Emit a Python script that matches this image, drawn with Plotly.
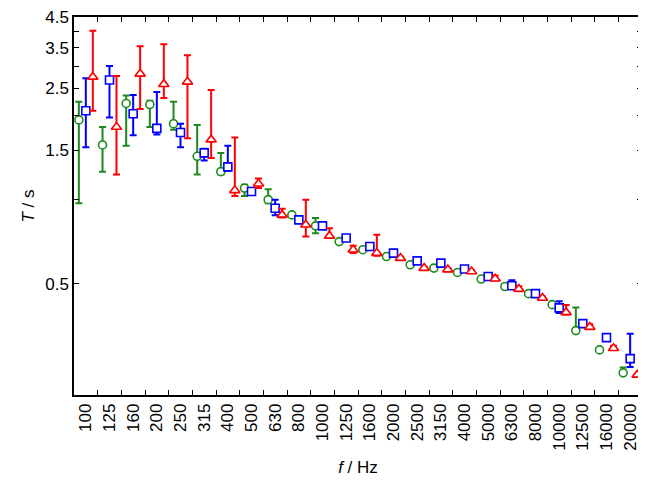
import plotly.graph_objects as go
import numpy as np

bands = ["100","125","160","200","250","315","400","500","630","800","1000","1250",
         "1600","2000","2500","3150","4000","5000","6300","8000","10000","12500","16000","20000"]

green_T = [1.93,1.57,2.21,2.19,1.87,1.43,1.26,1.10,1.00,0.882,0.806,0.708,0.662,0.626,0.585,0.569,0.549,0.520,0.489,0.461,0.421,0.340,0.290,0.240]
green_hi = [2.24,1.82,2.36,2.26,2.24,1.85,1.47,1.13,1.09,0.89,0.859,0.712,0.665,0.63,0.588,0.572,0.552,0.523,0.492,0.463,0.423,0.411,0.292,0.251]
green_lo = [0.97,1.26,1.56,1.82,1.78,1.23,1.23,1.03,0.97,0.875,0.759,0.705,0.659,0.622,0.582,0.566,0.546,0.517,0.486,0.459,0.419,0.338,0.288,0.240]

blue_T = [2.08,2.68,2.03,1.80,1.74,1.47,1.31,1.07,0.932,0.847,0.806,0.729,0.680,0.644,0.604,0.593,0.565,0.531,0.492,0.461,0.410,0.360,0.321,0.270]
blue_hi = [2.72,3.01,2.37,2.43,1.87,1.52,1.56,1.075,1.0,0.85,0.81,0.735,0.69,0.65,0.61,0.60,0.57,0.535,0.515,0.465,0.433,0.363,0.323,0.331]
blue_lo = [1.54,1.97,1.70,1.71,1.54,1.38,1.27,1.065,0.88,0.845,0.80,0.725,0.675,0.64,0.60,0.59,0.56,0.528,0.48,0.457,0.393,0.357,0.319,0.252]

red_T = [2.75,1.82,2.82,2.59,2.64,1.64,1.08,1.14,0.882,0.813,0.742,0.662,0.644,0.618,0.569,0.562,0.553,0.521,0.479,0.445,0.395,0.350,0.294,0.236]
red_hi = [4.02,2.77,3.54,3.60,3.29,2.47,1.67,1.19,0.927,1.0,0.791,0.684,0.749,0.625,0.575,0.57,0.56,0.535,0.49,0.45,0.42,0.358,0.30,0.238]
red_lo = [2.08,1.23,2.11,2.31,1.66,1.41,1.03,1.10,0.863,0.738,0.729,0.644,0.63,0.612,0.565,0.555,0.548,0.515,0.47,0.44,0.388,0.345,0.29,0.234]

y_tickvals = [0.5, 1, 1.5, 2, 2.5, 3, 3.5, 4, 4.5]
y_ticktext = ["0.5", "", "1.5", "", "2.5", "", "3.5", "", "4.5"]

series = [
    ("green", "#1e8a1e", "circle", green_T, green_hi, green_lo, -0.295, 8),
    ("blue", "#0000ff", "square", blue_T, blue_hi, blue_lo, 0.0, 8),
    ("red", "#ff0000", "triangle-up", red_T, red_hi, red_lo, 0.295, 9),
]

fig = go.Figure()
idx = np.arange(len(bands))
for name, col, sym, T, hi, lo, off, msize in series:
    T = np.array(T); hi = np.array(hi); lo = np.array(lo)
    fig.add_trace(go.Scatter(
        x=idx + off, y=T, mode="markers", name=name,
        marker=dict(symbol=sym, size=msize, color="white",
                    line=dict(color=col, width=1.6)),
        error_y=dict(type="data", symmetric=False, array=hi - T, arrayminus=T - lo,
                     color=col, thickness=2, width=3.5),
        showlegend=False,
    ))

# page body has an 8px margin: compensate so the plot frame lands at x 74..642, y 17..395
fig.update_layout(
    width=638, height=478,
    margin=dict(l=66, r=4, t=9, b=91, autoexpand=False),
    plot_bgcolor="white", paper_bgcolor="white",
    font=dict(family="Liberation Sans, Arial, sans-serif", size=17, color="black"),
)
fig.update_xaxes(
    range=[-0.5, len(bands) - 0.5],
    tickmode="array", tickvals=list(idx), ticktext=bands,
    tickangle=-90, ticks="", ticklen=0,
    minor=dict(tickmode="array", tickvals=list(idx[:-1] + 0.5), ticks="inside",
               ticklen=5, tickcolor="black", tickwidth=1, showgrid=False),
    showline=True, linecolor="black", linewidth=1.5, mirror="allticks",
    showgrid=False, zeroline=False, automargin=False,
    title=dict(text="<i>f</i> / Hz", standoff=11, font=dict(size=17)),
    tickfont=dict(size=17),
)
fig.update_yaxes(
    type="log", range=[np.log10(0.2), np.log10(4.505)],
    tickmode="array", tickvals=y_tickvals, ticktext=y_ticktext,
    ticks="inside", ticklen=5, tickcolor="black", tickwidth=1,
    showline=True, linecolor="black", linewidth=1.5, mirror="allticks",
    showgrid=False, zeroline=False, automargin=False,
    title=dict(text="<i>T</i> / s", standoff=6, font=dict(size=17)),
    tickfont=dict(size=17),
)

fig.write_html("out.html")
